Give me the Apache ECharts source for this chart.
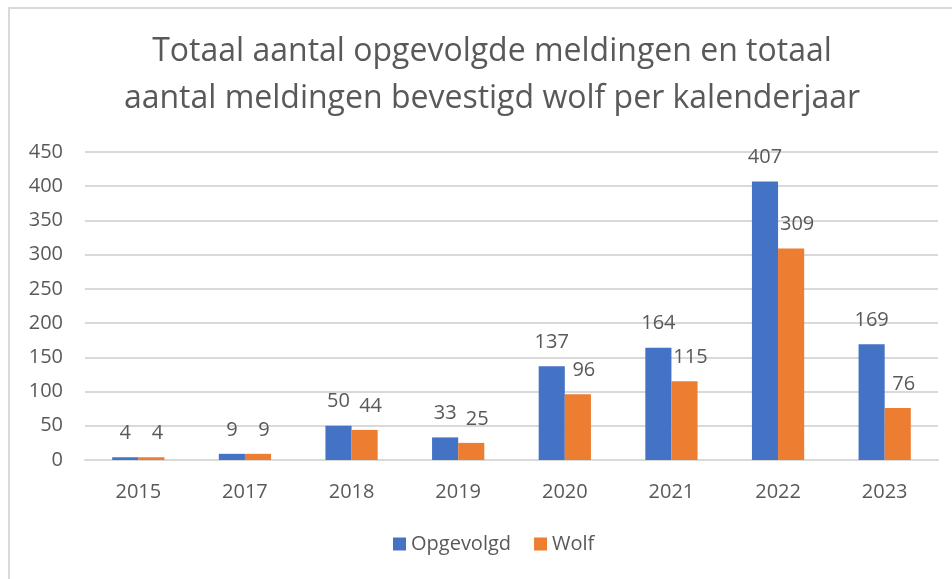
<!DOCTYPE html>
<html>
<head>
<meta charset="utf-8">
<script src="https://cdn.jsdelivr.net/npm/echarts@6/dist/echarts.min.js"></script>
<style>
  html, body { margin: 0; padding: 0; background: #fff; }
  #frame { position: absolute; left: 8px; top: 7px; width: 944px; height: 572px;
           border-left: 2px solid #d9d9d9; border-top: 2px solid #d9d9d9; box-sizing: border-box; }
  #chart { position: absolute; left: 0; top: 0; width: 952px; height: 579px; }
</style>
</head>
<body>
<div id="frame"></div>
<div id="chart"></div>
<script>
  var years = ['2015', '2017', '2018', '2019', '2020', '2021', '2022', '2023'];
  var opgevolgd = [4, 9, 50, 33, 137, 164, 407, 169];
  var wolf = [4, 9, 44, 25, 96, 115, 309, 76];

  var textColor = '#595959';
  var font = 'Open Sans';

  var myChart = echarts.init(document.getElementById('chart'));
  var option = {
    animation: false,
    title: {
      text: 'Totaal aantal opgevolgde meldingen en totaal\naantal meldingen bevestigd wolf per kalenderjaar',
      left: 487,
      textAlign: 'center',
      top: 23,
      textStyle: {
        color: textColor,
        fontFamily: font,
        fontWeight: 'normal',
        fontSize: 32,
        lineHeight: 47
      }
    },
    legend: {
      data: ['Opgevolgd', 'Wolf'],
      bottom: 20,
      left: 388,
      itemWidth: 13,
      itemHeight: 13,
      itemGap: 23,
      icon: 'rect',
      textStyle: { color: textColor, fontFamily: font, fontSize: 20 }
    },
    grid: {
      left: 85,
      right: 14,
      top: 152,
      bottom: 119,
      containLabel: false
    },
    xAxis: {
      type: 'category',
      data: years,
      axisLine: { lineStyle: { color: '#d9d9d9', width: 2 } },
      axisTick: { show: false },
      axisLabel: { color: textColor, fontFamily: font, fontSize: 20, margin: 22 }
    },
    yAxis: {
      type: 'value',
      min: 0,
      max: 450,
      interval: 50,
      axisLine: { show: false },
      axisTick: { show: false },
      splitLine: { lineStyle: { color: '#d9d9d9', width: 2 } },
      axisLabel: { color: textColor, fontFamily: font, fontSize: 20, margin: 22 }
    },
    series: [
      {
        name: 'Opgevolgd',
        type: 'bar',
        data: opgevolgd,
        barGap: '0%',
        barCategoryGap: '51%',
        itemStyle: { color: '#4472c4' },
        label: { show: true, position: 'top', distance: 14, color: textColor, fontFamily: font, fontSize: 20 }
      },
      {
        name: 'Wolf',
        type: 'bar',
        data: wolf,
        itemStyle: { color: '#ed7d31' },
        label: { show: true, position: 'top', distance: 14, offset: [6, 0], color: textColor, fontFamily: font, fontSize: 20 }
      }
    ]
  };
  myChart.setOption(option);
</script>
</body>
</html>
